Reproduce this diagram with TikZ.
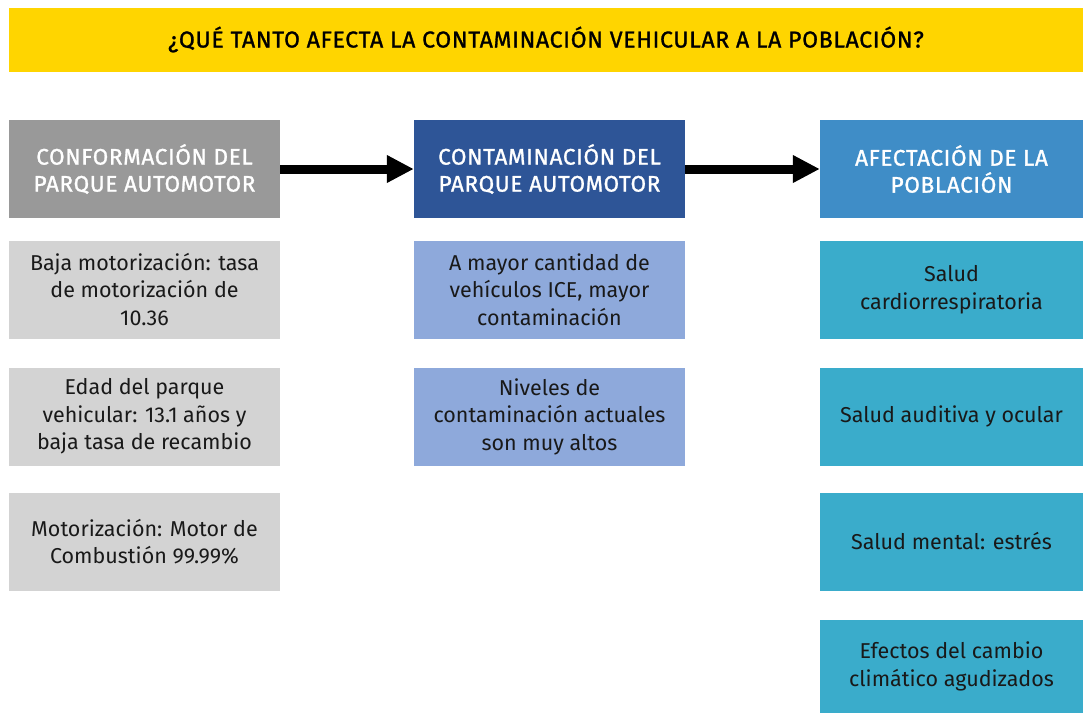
\documentclass[tikz,border=0pt]{standalone}
\usepackage{fontspec}
\setmainfont{Fira Sans}
\newfontfamily\hdfont[LetterSpace=3,FakeBold=1.2]{Fira Sans}
\usetikzlibrary{arrows.meta}
\definecolor{ttlyellow}{HTML}{FFD500}
\definecolor{hdgray}{HTML}{999999}
\definecolor{hdblue}{HTML}{2E5597}
\definecolor{hdteal}{HTML}{3F8DC7}
\definecolor{bxgray}{HTML}{D3D3D3}
\definecolor{bxblue}{HTML}{8EA9DB}
\definecolor{bxteal}{HTML}{3AACCB}
\tikzset{
  x=1pt, y=-1pt,
  ttl/.style={fill=ttlyellow, minimum width=1074pt, minimum height=64pt, inner sep=0pt,
    font=\hdfont\fontsize{23}{26}\selectfont, text=black},
  hd/.style={minimum width=271pt, minimum height=98pt, inner sep=0pt, align=center,
    text=white, font=\hdfont\fontsize{22.5}{27}\selectfont},
  bx/.style={minimum width=271pt, minimum height=98pt, inner sep=0pt, align=center,
    text=black!90, font=\fontsize{21.5}{27.5}\selectfont},
  flow/.style={line width=9pt, -{Triangle[width=26pt,length=27pt]}},
}
\begin{document}
\begin{tikzpicture}
\useasboundingbox (0,0) rectangle (1083,713);
\node[ttl] (title) at (546,39.5) {¿QUÉ TANTO AFECTA LA CONTAMINACIÓN VEHICULAR A LA POBLACIÓN?};
\node[hd, fill=hdgray] (h1) at (144.5,169) {CONFORMACIÓN DEL\\PARQUE AUTOMOTOR};
\node[hd, fill=hdblue] (h2) at (549.5,169) {CONTAMINACIÓN DEL\\PARQUE AUTOMOTOR};
\node[hd, fill=hdteal, minimum width=263pt] (h3) at (951.5,169) {AFECTACIÓN DE LA\\POBLACIÓN};
\draw[flow] (h1.east) -- (h2.west);
\draw[flow] (h2.east) -- (h3.west);
\node[bx, fill=bxgray] (a1) at (144.5,289.5) {Baja motorización: tasa\\de motorización de\\10.36};
\node[bx, fill=bxgray] (a2) at (144.5,416.5) {Edad del parque\\vehicular: 13.1 años y\\baja tasa de recambio};
\node[bx, fill=bxgray] (a3) at (144.5,541.5) {Motorización: Motor de\\Combustión 99.99\%};
\node[bx, fill=bxblue] (b1) at (549.5,289.5) {A mayor cantidad de\\vehículos ICE, mayor\\contaminación};
\node[bx, fill=bxblue] (b2) at (549.5,416.5) {Niveles de\\contaminación actuales\\son muy altos};
\node[bx, fill=bxteal, minimum width=263pt] (c1) at (951.5,289.5) {Salud\\cardiorrespiratoria};
\node[bx, fill=bxteal, minimum width=263pt] (c2) at (951.5,416.5) {Salud auditiva y ocular};
\node[bx, fill=bxteal, minimum width=263pt] (c3) at (951.5,541.5) {Salud mental: estrés};
\node[bx, fill=bxteal, minimum width=263pt, minimum height=93pt] (c4) at (951.5,666.5) {Efectos del cambio\\climático agudizados};
\end{tikzpicture}
\end{document}
